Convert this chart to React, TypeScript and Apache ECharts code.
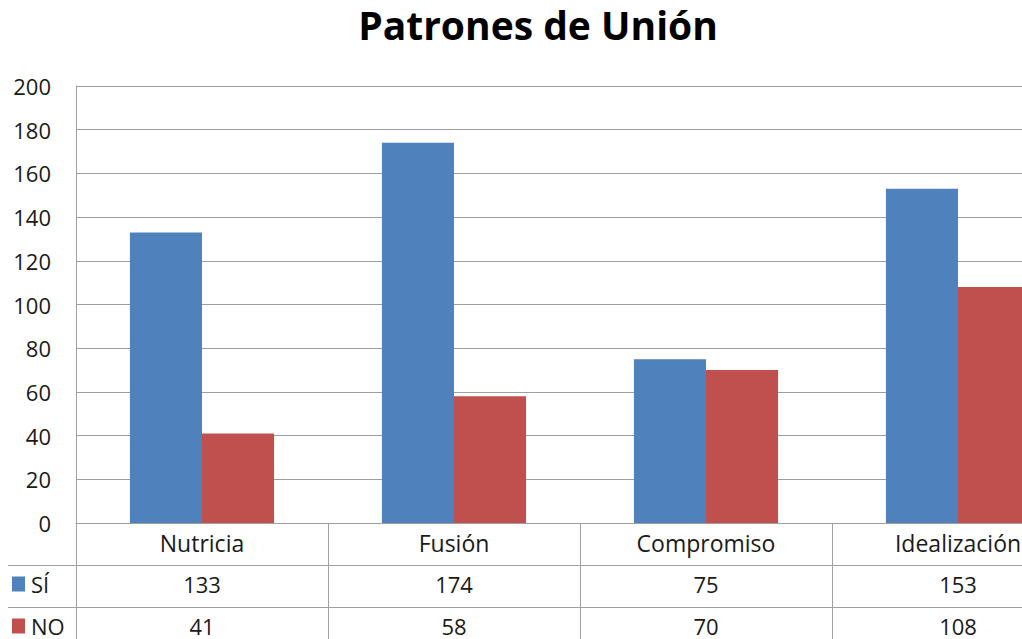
import React, { useEffect, useRef } from "react";
import * as echarts from "echarts";

const categories = ["Nutricia", "Fusión", "Compromiso", "Idealización"];
const siValues = [133, 174, 75, 153];
const noValues = [41, 58, 70, 108];
const seriesNames = ["SÍ", "NO"];
const yTicks = { min: 0, max: 200, interval: 20 };

const FONT = "'Open Sans', Lato, sans-serif";

export default function App() {
  const ref = useRef<HTMLDivElement>(null);
  useEffect(() => {
    if (!ref.current) return;
    const chart = echarts.init(ref.current, null, { renderer: "svg" });
    const lineColor = "#a0a0a0";
    const txt = "#1a1a1a";
    const legendBase = {
      orient: "vertical",
      left: 12,
      padding: 0,
      itemWidth: 13,
      itemHeight: 15,
      itemGap: 0,
      icon: "rect",
      textStyle: { fontFamily: FONT, fontSize: 22, color: txt, padding: [0, 0, 0, 1] },
    };
    chart.setOption({
      animation: false,
      backgroundColor: "#ffffff",
      textStyle: { fontFamily: FONT },
      title: {
        text: "Patrones de Unión",
        left: 533,
        top: 0,
        textAlign: "center",
        textStyle: { fontFamily: FONT, fontSize: 39, fontWeight: "bold", color: "#000" },
      },
      legend: [
        { ...legendBase, top: 573, data: [seriesNames[0]] },
        { ...legendBase, top: 615, data: [seriesNames[1]] },
      ],
      grid: { left: 76, right: 6, top: 86, bottom: 116, containLabel: false },
      xAxis: [
        {
          type: "category",
          data: categories,
          axisLine: { lineStyle: { color: lineColor, width: 1 } },
          axisTick: { show: true, length: 130, lineStyle: { color: lineColor } },
          axisLabel: { fontFamily: FONT, fontSize: 23, color: txt, margin: 8 },
        },
        {
          type: "category",
          data: siValues.map(String),
          position: "bottom",
          offset: 42,
          axisLine: { show: false },
          axisTick: { show: false },
          axisLabel: { fontFamily: FONT, fontSize: 22, color: txt, margin: 8 },
        },
        {
          type: "category",
          data: noValues.map(String),
          position: "bottom",
          offset: 84,
          axisLine: { show: false },
          axisTick: { show: false },
          axisLabel: { fontFamily: FONT, fontSize: 22, color: txt, margin: 8 },
        },
      ],
      yAxis: {
        type: "value",
        min: yTicks.min,
        max: yTicks.max,
        interval: yTicks.interval,
        axisLine: { show: true, lineStyle: { color: lineColor } },
        axisTick: { show: false },
        axisLabel: { fontFamily: FONT, fontSize: 22, color: txt, margin: 25 },
        splitLine: { lineStyle: { color: lineColor, width: 1 } },
      },
      graphic: [
        { type: "line", shape: { x1: 8, y1: 565.5, x2: 1090, y2: 565.5 }, style: { stroke: lineColor, lineWidth: 1 } },
        { type: "line", shape: { x1: 8, y1: 607.5, x2: 1090, y2: 607.5 }, style: { stroke: lineColor, lineWidth: 1 } },
      ],
      series: [
        {
          name: seriesNames[0],
          type: "bar",
          data: siValues,
          barGap: "0%",
          barCategoryGap: "42.8%",
          itemStyle: { color: "#4F81BD" },
        },
        {
          name: seriesNames[1],
          type: "bar",
          data: noValues,
          barGap: "0%",
          barCategoryGap: "42.8%",
          itemStyle: { color: "#C0504D" },
        },
      ],
    });
    return () => chart.dispose();
  }, []);
  return (
    <div style={{ position: "absolute", left: 0, top: 0, width: 1022, height: 639, overflow: "hidden" }}>
      <div ref={ref} style={{ width: 1090, height: 639 }} />
    </div>
  );
}
